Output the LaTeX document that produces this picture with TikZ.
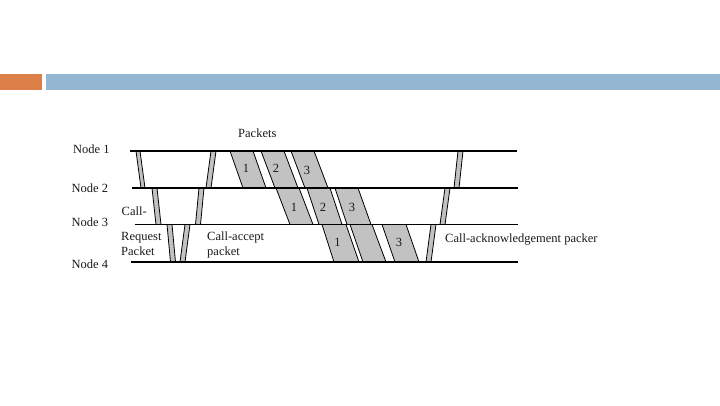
\documentclass[tikz,border=0pt]{standalone}
\usepackage{fontspec}
\setmainfont{Liberation Serif}
\definecolor{hdrorange}{HTML}{DD8047}
\definecolor{hdrblue}{HTML}{94B6D2}
\definecolor{pktgray}{HTML}{C2C2C2}
\tikzset{
  nodeline/.style={draw=black, line width=1.1pt},
  stripebox/.style={fill=pktgray, draw=black, line width=0.8pt, line join=miter},
  lbl/.style={font=\fontsize{12.5}{14}\selectfont, inner sep=0pt, anchor=base west, text=black!90},
  num/.style={font=\fontsize{12.5}{14}\selectfont, inner sep=0pt, anchor=center, text=black!90}
}
\newcommand{\mypg}[6]{\filldraw[stripebox] (#3,#1) -- (#4,#1) -- (#6,#2) -- (#5,#2) -- cycle;}
\begin{document}
\begin{tikzpicture}[x=1pt,y=-1pt]
\useasboundingbox (0,0) rectangle (720,405);
% header bars
\fill[hdrorange] (0,74) rectangle (42,89.5);
\fill[hdrblue] (46,74) rectangle (720,89.5);

% row y positions: 151, 188, 224.5, 262
% call request strips
\mypg{151}{188}{136}{140}{141}{145}
\mypg{188}{224.5}{152}{157}{156}{161}
\mypg{224.5}{262}{167}{172}{170.5}{175.5}
% call accept strips
\mypg{224.5}{262}{185}{190}{180}{185}
\mypg{188}{224.5}{199}{204}{195.5}{200.5}
\mypg{151}{188}{211}{216}{206}{211}
% packets row 1
\mypg{151}{188}{230}{253}{243}{266}
\mypg{151}{188}{261}{284}{275}{298}
\mypg{151}{188}{291}{314}{305}{328}
% packets row 2
\mypg{188}{224.5}{276}{299}{290}{313}
\mypg{188}{224.5}{307}{330}{319}{342}
\mypg{188}{224.5}{335}{358}{347}{371}
% packets row 3
\mypg{224.5}{262}{322}{346}{334}{359}
\mypg{224.5}{262}{350}{372}{363}{386}
\mypg{224.5}{262}{382}{406}{395}{419}
% call acknowledgement strips
\mypg{151}{188}{458}{463}{454}{459}
\mypg{188}{224.5}{445}{450}{440}{445}
\mypg{224.5}{262}{431}{436}{426}{431}

% node lines
\coordinate (n1s) at (130,151);   \coordinate (n1e) at (517,151);
\coordinate (n2s) at (131.5,188); \coordinate (n2e) at (518,188);
\coordinate (n3s) at (135,224.5); \coordinate (n3e) at (518,224.5);
\coordinate (n4s) at (131,262);   \coordinate (n4e) at (518,262);
\draw[nodeline] (n1s) -- (n1e);
\draw[nodeline] (n2s) -- (n2e);
\draw[nodeline] (n3s) -- (n3e);
\draw[nodeline] (n4s) -- (n4e);

% labels
\node[lbl] (l1) at (73,153.5) {Node 1};
\node[lbl] (l2) at (71.5,192) {Node 2};
\node[lbl] (l3) at (71.5,226.5) {Node 3};
\node[lbl] (l4) at (71.5,268) {Node 4};
\node[lbl] (pk) at (238,137.5) {Packets};
\node[lbl] (cr1) at (121.5,215.5) {Call-};
\node[lbl] (cr2) at (121,240.5) {Request};
\node[lbl] (cr3) at (121,255.5) {Packet};
\node[lbl] (ca1) at (207,240.5) {Call-accept};
\node[lbl] (ca2) at (207,255.5) {packet};
\node[lbl] (ack) at (445,242.5) {Call-acknowledgement packer};

% packet numbers
\node[num] (r1a) at (246,168) {1};
\node[num] (r1b) at (276,168) {2};
\node[num] (r1c) at (307,170) {3};
\node[num] (r2a) at (294,207) {1};
\node[num] (r2b) at (323,207) {2};
\node[num] (r2c) at (352,207) {3};
\node[num] (r3a) at (337.5,242) {1};
\node[num] (r3c) at (399,242.5) {3};
\end{tikzpicture}
\end{document}
